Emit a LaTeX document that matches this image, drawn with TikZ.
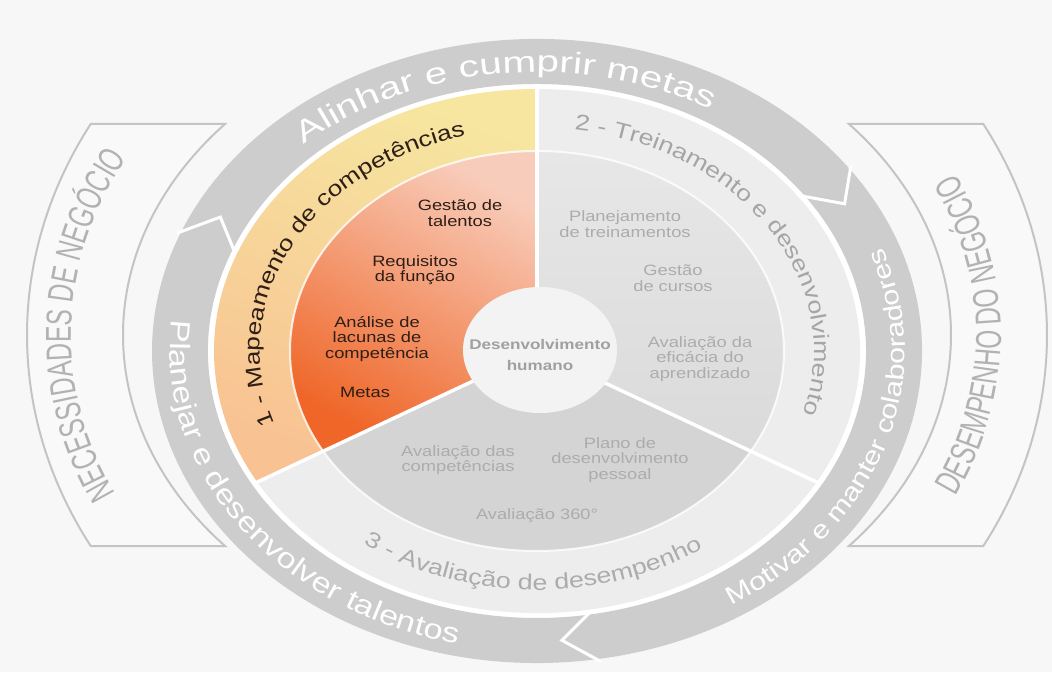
\documentclass[tikz,border=0pt]{standalone}
\usepackage{fontspec}
\setmainfont[FakeStretch=1.22]{Liberation Sans}
\newfontfamily\narrowfont[FakeStretch=0.68]{Liberation Sans}
\newfontfamily\widefont[FakeStretch=1.35]{Liberation Sans}
\usetikzlibrary{decorations.text}
\definecolor{pagebg}{RGB}{247,247,247}
\definecolor{ringgray}{RGB}{205,205,205}
\definecolor{bracketline}{RGB}{196,196,196}
\definecolor{bracketfill}{RGB}{249,249,249}
\definecolor{brackettext}{RGB}{178,178,178}
\definecolor{bandgray}{RGB}{237,237,237}
\definecolor{sectortop}{RGB}{231,231,231}
\definecolor{sectormid}{RGB}{218,218,218}
\definecolor{sectorlow}{RGB}{212,212,212}
\definecolor{softtext}{RGB}{172,172,172}
\definecolor{titlegray}{RGB}{165,165,165}
\definecolor{hubgray}{RGB}{160,160,160}
\definecolor{yellowtop}{RGB}{246,230,160}
\definecolor{peachlow}{RGB}{248,194,146}
\definecolor{salmontop}{RGB}{248,204,186}
\definecolor{orangelow}{RGB}{239,102,40}
\definecolor{darktext}{RGB}{46,30,22}
\definecolor{hubfill}{RGB}{243,243,243}
\tikzset{
    % gray arrow ring
    ringseg/.style={fill=ringgray},
    ringgap/.style={draw=white, line width=3pt, line join=miter},
    % business brackets left and right
    bracket/.style={fill=bracketfill, draw=bracketline, line width=2pt},
    % white separators between sectors
    divider/.style={draw=white, line width=3.5pt},
    % text set along an arc
    arctext/.style={decorate, decoration={text along path, text align=center, text={#1}}},
    % labels inside the sectors
    innerlabel/.style={align=center, inner sep=0pt, font=\fontsize{15}{15.5}\selectfont},
    darklabel/.style={innerlabel, text=darktext},
    softlabel/.style={innerlabel, text=softtext},
    hubtext/.style={align=center, inner sep=0pt, text=hubgray, font=\bfseries\fontsize{14}{21}\selectfont}
}
% one arrow of the ring: start angle, end angle (clockwise)
\newcommand{\ringarrow}[2]{%
  \fill[ringseg] (#1:385pt and 312pt)
    arc[start angle=#1, end angle=#2, x radius=385pt, y radius=312pt]
    -- ({#2-5.5}:357pt and 290pt) -- (#2:329pt and 267pt)
    arc[start angle=#2, end angle=#1, x radius=329pt, y radius=267pt]
    -- ({#1-5.5}:357pt and 290pt) -- cycle;
}

\begin{document}
\begin{tikzpicture}[x=1pt, y=1pt]

\fill[pagebg] (-537,-321) rectangle (515,351);
\useasboundingbox (-537,-321) rectangle (515,351);

% brackets
\begin{scope}[shift={(0,16)}]
\filldraw[bracket] (151.05:510pt and 436pt)
    arc[start angle=151.05, end angle=208.95, x radius=510pt, y radius=436pt]
    -- (221.1:414pt and 321pt)
    arc[start angle=221.1, end angle=138.9, x radius=414pt, y radius=321pt] -- cycle;
\filldraw[bracket] (28.95:510pt and 436pt)
    arc[start angle=28.95, end angle=-28.95, x radius=510pt, y radius=436pt]
    -- (-41.1:414pt and 321pt)
    arc[start angle=-41.1, end angle=41.1, x radius=414pt, y radius=321pt] -- cycle;
\path[arctext={|\narrowfont\fontsize{36}{36}\selectfont\color{brackettext}|NECESSIDADES DE NEGÓCIO}]
    (215:466pt and 372pt) arc[start angle=215, end angle=142, x radius=466pt, y radius=372pt];
\path[arctext={|\narrowfont\fontsize{36}{36}\selectfont\color{brackettext}|DESEMPENHO DO NEGÓCIO}]
    (-37:464pt and 374pt) arc[start angle=-37, end angle=37, x radius=464pt, y radius=374pt];
\end{scope}

% arrow ring
\fill[white] (0,0) ellipse[x radius=331pt, y radius=268pt];
\ringarrow{158}{36}
\ringarrow{36}{-80.5}
\ringarrow{-80.5}{-202}
\foreach \t in {158,36,-80.5}
  \draw[ringgap] (\t:388pt and 315pt) -- ({\t-5.5}:357pt and 290pt) -- (\t:326pt and 264pt);
\path[arctext={|\widefont\fontsize{30}{30}\selectfont\color{white}|Alinhar e cumprir metas}]
    (151.5:346pt and 279pt) arc[start angle=151.5, end angle=41.5, x radius=346pt, y radius=279pt];
\path[arctext={|\fontsize{25}{25}\selectfont\color{white}|Motivar e manter colaboradores}]
    (-73:368pt and 300pt) arc[start angle=-73, end angle=37, x radius=368pt, y radius=300pt];
\path[arctext={|\fontsize{28}{28}\selectfont\color{white}|Planejar e desenvolver talentos}]
    (159.5:367pt and 300pt) arc[start angle=159.5, end angle=269.5, x radius=367pt, y radius=300pt];

% sector 1
\shade[top color=yellowtop, bottom color=peachlow, shading angle=-20] (0,0) -- (90:323pt and 262pt)
    arc[start angle=90, end angle=210, x radius=323pt, y radius=262pt] -- cycle;
\shade[top color=salmontop, bottom color=orangelow, shading angle=-30] (0,0) -- (90:247pt and 200pt)
    arc[start angle=90, end angle=210, x radius=247pt, y radius=200pt] -- cycle;
% sector 2
\fill[bandgray] (0,0) -- (-30:323pt and 262pt)
    arc[start angle=-30, end angle=90, x radius=323pt, y radius=262pt] -- cycle;
\shade[top color=sectortop, bottom color=sectormid] (0,0) -- (-30:247pt and 200pt)
    arc[start angle=-30, end angle=90, x radius=247pt, y radius=200pt] -- cycle;
% sector 3
\fill[bandgray] (0,0) -- (210:323pt and 262pt)
    arc[start angle=210, end angle=330, x radius=323pt, y radius=262pt] -- cycle;
\fill[sectorlow] (0,0) -- (210:247pt and 200pt)
    arc[start angle=210, end angle=330, x radius=247pt, y radius=200pt] -- cycle;

\draw[white, line width=2pt, opacity=.8] (0,0) ellipse[x radius=247pt, y radius=200pt];
\foreach \a in {90,210,330}
  \draw[divider] (\a:70pt and 57pt) -- (\a:324pt and 263pt);

% sector titles
\path[arctext={|\fontsize{21.5}{21.5}\selectfont\color{darktext}|1 - Mapeamento de competências}]
    (213:277pt and 223pt) arc[start angle=213, end angle=93, x radius=277pt, y radius=223pt];
\path[arctext={|\fontsize{22}{22}\selectfont\color{titlegray}|2 - Treinamento e desenvolvimento}]
    (92:277pt and 223pt) arc[start angle=92, end angle=-28, x radius=277pt, y radius=223pt];
\path[arctext={|\fontsize{22}{22}\selectfont\color{softtext}|3 - Avaliação de desempenho}]
    (214:293pt and 239pt) arc[start angle=214, end angle=324, x radius=293pt, y radius=239pt];

% hub
\fill[hubfill] (3,1) ellipse[x radius=77pt, y radius=63pt];
\node[hubtext] (hub) at (3,-4) {Desenvolvimento\\humano};

% sector 1 labels
\node[darklabel] (talentos) at (-77,138) {Gestão de\\talentos};
\node[darklabel] (requisitos) at (-122,81) {Requisitos\\da função};
\node[darklabel] (lacunas) at (-160,12) {Análise de\\lacunas de\\competência};
\node[darklabel] (metas) at (-172,-41) {Metas};

% sector 2 labels
\node[softlabel] (planejamento) at (88,127) {Planejamento\\de treinamentos};
\node[softlabel] (cursos) at (136,73) {Gestão\\de cursos};
\node[softlabel] (eficacia) at (163,-8) {Avaliação da\\eficácia do\\aprendizado};

% sector 3 labels
\node[softlabel] (competencias) at (-79,-109) {Avaliação das\\competências};
\node[softlabel] (pessoal) at (83,-109) {Plano de\\desenvolvimento\\pessoal};
\node[softlabel] (aval360) at (0,-165) {Avaliação 360°};

\end{tikzpicture}
\end{document}
